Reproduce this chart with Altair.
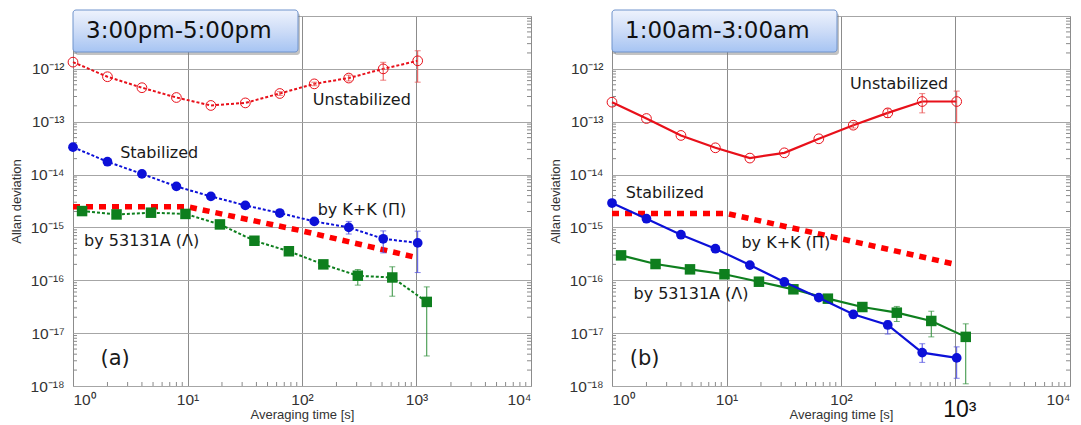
import altair as alt
import pandas as pd

# ---------------- data ----------------
TAU_PI = [1, 2, 4, 8, 16, 32, 64, 128, 256, 512, 1024]
TAU_LAMBDA = [1.2, 2.4, 4.8, 9.6, 19.2, 38.4, 76.8, 153.6, 307.2, 614.4, 1228.8]
TAU_KK = [1, 10, 100, 1000]

# panel (a) 3:00pm-5:00pm
A_UNSTAB = [1.34e-12, 7.1e-13, 4.4e-13, 2.87e-13, 2.03e-13, 2.27e-13, 3.42e-13, 5.2e-13, 6.7e-13, 1.0e-12, 1.42e-12]
A_STAB = [3.3e-14, 1.75e-14, 1.03e-14, 5.97e-15, 3.86e-15, 2.61e-15, 1.87e-15, 1.3e-15, 1.0e-15, 6.1e-16, 5.1e-16]
A_LAMBDA = [2.04e-15, 1.76e-15, 1.9e-15, 1.8e-15, 1.14e-15, 5.6e-16, 3.54e-16, 2.0e-16, 1.22e-16, 1.13e-16, 3.9e-17]
A_KK = [2.46e-15, 2.46e-15, 8.6e-16, 2.7e-16]

A_UNSTAB_ERR_TAU = [64, 128, 256, 512, 1024]
A_UNSTAB_ERR_HI = [3.7e-13, 5.6e-13, 7.6e-13, 1.33e-12, 2.2e-12]
A_UNSTAB_ERR_LO = [3.15e-13, 4.8e-13, 5.9e-13, 6.1e-13, 5.6e-13]
A_STAB_ERR_TAU = [256, 512, 1024]
A_STAB_ERR_HI = [1.3e-15, 8.6e-16, 8.5e-16]
A_STAB_ERR_LO = [7.5e-16, 3.3e-16, 1.4e-16]
A_LAMBDA_ERR_TAU = [307.2, 614.4, 1228.8]
A_LAMBDA_ERR_HI = [1.6e-16, 1.8e-16, 7.5e-17]
A_LAMBDA_ERR_LO = [8.1e-17, 5.0e-17, 3.7e-18]

# panel (b) 1:00am-3:00am
B_UNSTAB = [2.34e-13, 1.15e-13, 5.5e-14, 3.21e-14, 2.05e-14, 2.58e-14, 4.75e-14, 8.6e-14, 1.47e-13, 2.41e-13, 2.41e-13]
B_STAB = [2.89e-15, 1.46e-15, 7.27e-16, 3.96e-16, 1.94e-16, 9.3e-17, 4.69e-17, 2.27e-17, 1.43e-17, 4.28e-18, 3.4e-18]
B_LAMBDA = [2.96e-16, 2.03e-16, 1.61e-16, 1.3e-16, 9.4e-17, 6.75e-17, 4.49e-17, 3.12e-17, 2.44e-17, 1.7e-17, 8.5e-18]
B_KK = [1.84e-15, 1.84e-15, 6.1e-16, 2.0e-16]

B_UNSTAB_ERR_TAU = [128, 256, 512, 1024]
B_UNSTAB_ERR_HI = [9.6e-14, 1.75e-13, 3.4e-13, 3.8e-13]
B_UNSTAB_ERR_LO = [7.6e-14, 1.2e-13, 1.47e-13, 9.6e-14]
B_STAB_ERR_TAU = [128, 256, 512, 1024]
B_STAB_ERR_HI = [2.6e-17, 1.7e-17, 6.3e-18, 5.5e-18]
B_STAB_ERR_LO = [1.9e-17, 9.6e-18, 2.8e-18, 1.4e-18]
B_LAMBDA_ERR_TAU = [307.2, 614.4, 1228.8]
B_LAMBDA_ERR_HI = [3.2e-17, 2.6e-17, 1.5e-17]
B_LAMBDA_ERR_LO = [1.66e-17, 8.5e-18, 1.1e-18]

# annotations
A_NOTE_TEXT = ["Unstabilized", "Stabilized", "by K+K (Π)", "by 53131A (Λ)"]
A_NOTE_TAU = [124, 2.58, 137, 1.25]
A_NOTE_VAL = [2.63e-13, 2.51e-14, 2.13e-15, 5.52e-16]
B_NOTE_TEXT = ["Unstabilized", "Stabilized", "by K+K (Π)", "by 53131A (Λ)"]
B_NOTE_TAU = [120, 1.32, 13.5, 1.54]
B_NOTE_VAL = [5.06e-13, 4.53e-15, 4.99e-16, 5.42e-17]

X_TICKS = [1, 10, 100, 1000, 10000]
Y_TICKS = [1e-18, 1e-17, 1e-16, 1e-15, 1e-14, 1e-13, 1e-12, 1e-11]
MINOR_X = [m * 10 ** k for k in range(0, 4) for m in range(2, 10)]
MINOR_Y = [m * 10.0 ** k for k in range(-18, -11) for m in range(2, 10)]

W, H = 458, 370
RED, BLUE, GREEN = "#e8101a", "#0c10d8", "#0e7f1e"
FONT = "DejaVu Sans"
AXFONT = "Liberation Sans"


def make_panel(unstab, stab, lam, kk, uerr, serr, lerr, notes, box_text, tag,
               solid, hide_x3):
    xs = alt.Scale(type="log", domain=[1, 1e4], nice=False)
    ys = alt.Scale(type="log", domain=[1e-18, 1e-11], nice=False)
    x3 = "" if hide_x3 else "10³"
    xaxis = alt.Axis(
        values=X_TICKS, grid=True, gridColor="#8c8c8c", gridWidth=1,
        domain=False, ticks=False, tickSize=0, labelOverlap=False,
        labelExpr="['10⁰','10¹','10²','" + x3 + "','10⁴'][round(log(datum.value)/LN10)]",
        labelFont=AXFONT, labelFontSize=15.5, labelColor="#333", labelPadding=6,
        title="Averaging time [s]", titleFont=AXFONT, titleFontSize=13,
        titleFontWeight="normal", titleColor="#333", titlePadding=1)
    yaxis = alt.Axis(
        values=Y_TICKS, grid=True, gridColor="#a6a6a6", gridWidth=1,
        domain=False, ticks=False, tickSize=0, labelOverlap=False,
        labelExpr="['10⁻¹⁸','10⁻¹⁷','10⁻¹⁶','10⁻¹⁵','10⁻¹⁴','10⁻¹³','10⁻¹²',''][round(log(datum.value)/LN10)+18]",
        labelFont=AXFONT, labelFontSize=15.5, labelColor="#333", labelPadding=9,
        title="Allan deviation", titleFont=AXFONT, titleFontSize=13,
        titleFontWeight="normal", titleColor="#333", titlePadding=6)

    def X(f):
        return alt.X(f"{f}:Q", scale=xs, axis=xaxis)

    def Y(f):
        return alt.Y(f"{f}:Q", scale=ys, axis=yaxis)

    layers = []
    # minor ticks (inside)
    my = pd.DataFrame({"v": MINOR_Y})
    mx = pd.DataFrame({"t": MINOR_X})
    layers.append(alt.Chart(my).mark_rule(color="#8a8a8a", strokeWidth=1).encode(
        y=Y("v"), x=alt.value(0), x2=alt.value(4)))
    layers.append(alt.Chart(my).mark_rule(color="#8a8a8a", strokeWidth=1).encode(
        y=Y("v"), x=alt.value(W - 4), x2=alt.value(W)))
    layers.append(alt.Chart(mx).mark_rule(color="#8a8a8a", strokeWidth=1).encode(
        x=X("t"), y=alt.value(H - 4), y2=alt.value(H)))

    # K+K thick dashed
    kdf = pd.DataFrame({"tau": TAU_KK, "val": kk})
    layers.append(alt.Chart(kdf).mark_line(color="#ff0000", strokeWidth=5.5,
                                           strokeDash=[7, 6], strokeCap="butt").encode(
        x=X("tau"), y=Y("val")))

    dash = [] if solid else [3, 2]
    lw = 2.2 if solid else 2

    def series(taus, vals, err, color, ecolor, shape, filled, size):
        df = pd.DataFrame({"tau": taus, "val": vals})
        edf = pd.DataFrame({"tau": err[0], "hi": err[1], "lo": err[2]})
        out = []
        line_kw = dict(color=color, strokeWidth=lw)
        if dash:
            line_kw["strokeDash"] = dash
        out.append(alt.Chart(df).mark_line(**line_kw).encode(x=X("tau"), y=Y("val")))
        out.append(alt.Chart(edf).mark_rule(color=ecolor, strokeWidth=1).encode(
            x=X("tau"), y=Y("hi"), y2="lo:Q"))
        out.append(alt.Chart(edf).mark_tick(color=ecolor, orient="horizontal",
                                            size=6, thickness=1).encode(
            x=X("tau"), y=Y("hi")))
        out.append(alt.Chart(edf).mark_tick(color=ecolor, orient="horizontal",
                                            size=6, thickness=1).encode(
            x=X("tau"), y=Y("lo")))
        if filled:
            pm = alt.Chart(df).mark_point(shape=shape, filled=True, size=size,
                                          color=color, opacity=1)
        else:
            pm = alt.Chart(df).mark_point(shape=shape, filled=False, size=size,
                                          color=color, strokeWidth=1, opacity=1)
        out.append(pm.encode(x=X("tau"), y=Y("val")))
        return out

    layers += series(TAU_PI, unstab, uerr, RED, "#e84a4a", "circle", False, 95)
    layers += series(TAU_LAMBDA, lam, lerr, GREEN, "#2f8f3a", "square", True, 110)
    layers += series(TAU_PI, stab, serr, BLUE, "#4a4ae0", "circle", True, 95)

    # notes
    ndf = pd.DataFrame({"tau": notes[0], "val": notes[1], "label": notes[2]})
    layers.append(alt.Chart(ndf).mark_text(align="left", baseline="middle",
                                           font=FONT, fontSize=16, color="#1a1a1a").encode(
        x=X("tau"), y=Y("val"), text="label:N"))
    tdf = pd.DataFrame({"tau": [tag[0]], "val": [tag[1]], "label": [tag[2]]})
    layers.append(alt.Chart(tdf).mark_text(align="left", baseline="middle",
                                           font=FONT, fontSize=21, color="#1a1a1a").encode(
        x=X("tau"), y=Y("val"), text="label:N"))

    # title box
    one = pd.DataFrame({"label": [box_text]})
    layers.append(alt.Chart(one).mark_rect(color="#7a7a7a", opacity=0.45, cornerRadius=3).encode(
        x=alt.value(2), x2=alt.value(227), y=alt.value(-3), y2=alt.value(39)))
    grad = alt.Gradient(gradient="linear",
                        stops=[alt.GradientStop(color="#eef3fd", offset=0),
                               alt.GradientStop(color="#cddcf7", offset=0.5),
                               alt.GradientStop(color="#a6c4f3", offset=1)],
                        x1=0, x2=0, y1=0, y2=1)
    layers.append(alt.Chart(one).mark_rect(fill=grad, stroke="#6f93cc", strokeWidth=1,
                                           cornerRadius=3).encode(
        x=alt.value(0), x2=alt.value(225), y=alt.value(-6), y2=alt.value(36)))
    layers.append(alt.Chart(one).mark_text(align="left", baseline="middle", font=FONT,
                                           fontSize=23, color="#111").encode(
        x=alt.value(13), y=alt.value(15), text="label:N"))

    if hide_x3:
        big = pd.DataFrame({"tau": [1090], "label": ["10³"]})
        layers.append(alt.Chart(big).mark_text(align="center", baseline="middle",
                                               font=AXFONT, fontSize=23, color="#111").encode(
            x=X("tau"), y=alt.value(H + 24), text="label:N"))

    return alt.layer(*layers).properties(width=W, height=H)


pa = make_panel(
    A_UNSTAB, A_STAB, A_LAMBDA, A_KK,
    (A_UNSTAB_ERR_TAU, A_UNSTAB_ERR_HI, A_UNSTAB_ERR_LO),
    (A_STAB_ERR_TAU, A_STAB_ERR_HI, A_STAB_ERR_LO),
    (A_LAMBDA_ERR_TAU, A_LAMBDA_ERR_HI, A_LAMBDA_ERR_LO),
    (A_NOTE_TAU, A_NOTE_VAL, A_NOTE_TEXT), "3:00pm-5:00pm",
    (1.74, 3.2e-18, "(a)"), solid=False, hide_x3=False)

pb = make_panel(
    B_UNSTAB, B_STAB, B_LAMBDA, B_KK,
    (B_UNSTAB_ERR_TAU, B_UNSTAB_ERR_HI, B_UNSTAB_ERR_LO),
    (B_STAB_ERR_TAU, B_STAB_ERR_HI, B_STAB_ERR_LO),
    (B_LAMBDA_ERR_TAU, B_LAMBDA_ERR_HI, B_LAMBDA_ERR_LO),
    (B_NOTE_TAU, B_NOTE_VAL, B_NOTE_TEXT), "1:00am-3:00am",
    (1.43, 3.2e-18, "(b)"), solid=True, hide_x3=True)

chart = alt.hconcat(pa, pb, spacing=81, bounds="flush").properties(
    padding={"left": 2, "top": 0, "right": 0, "bottom": 0},
    background="white",
).configure_view(stroke="#999999", strokeWidth=1)

chart.save("out.html", embed_options={"renderer": "svg", "actions": False})
